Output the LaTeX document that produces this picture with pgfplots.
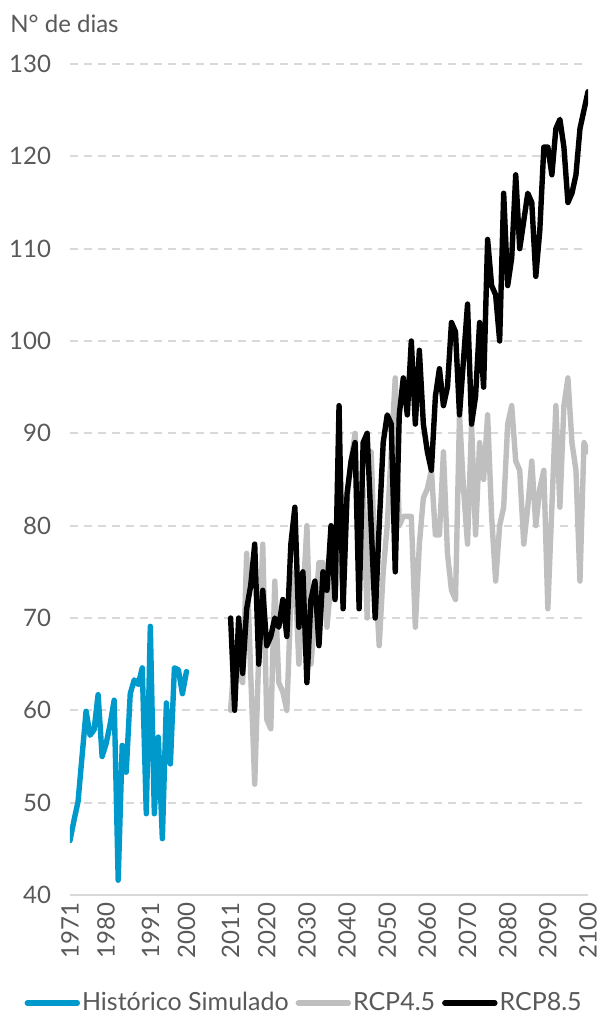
\documentclass[border=0pt]{standalone}
\usepackage{fontspec}
\setmainfont{Lato}
\usepackage{pgfplots}
\pgfplotsset{compat=1.18}
\definecolor{histblue}{RGB}{0,153,204}
\definecolor{rcpgrey}{RGB}{191,191,191}
\definecolor{gridgrey}{RGB}{217,217,217}
\definecolor{textgrey}{RGB}{89,89,89}
\begin{document}
\begin{tikzpicture}
\path[use as bounding box] (-35bp,-66bp) rectangle (265bp,447.5bp);
\begin{axis}[
  at={(0,0)}, anchor=south west,
  scale only axis, width=259bp, height=415.5bp,
  xmin=1971, xmax=2100, ymin=40, ymax=130,
  axis x line*=bottom, axis y line*=left,
  y axis line style={draw=none},
  x axis line style={gridgrey, line width=1bp},
  major tick length=0pt,
  ytick={40,50,...,130},
  xtick={1971,1980,1991,2000,2011,2020,2030,2040,2050,2060,2070,2080,2090,2100},
  xticklabels={1971,1980,1991,2000,2011,2020,2030,2040,2050,2060,2070,2080,2090,2100},
  ymajorgrids,
  grid style={gridgrey, dash pattern=on 4bp off 3bp, line width=1bp},
  /pgf/number format/assume math mode=true,
  tick label style={font=\fontsize{12bp}{14bp}\selectfont, text=textgrey},
  yticklabel style={anchor=east, xshift=-6bp},
  xticklabel style={rotate=90, anchor=east, inner sep=1.5bp, xshift=-2bp},
  legend style={at={(0.452,-0.13)}, anchor=center, draw=none, fill=none,
    legend columns=3, font=\fontsize{12.5bp}{14bp}\selectfont, text=textgrey,
    nodes={inner sep=1bp},
    /tikz/every even column/.append style={column sep=2.5bp}},
  legend image code/.code={\draw[#1, line cap=round] (0bp,0bp) -- (25bp,0bp);},
  every axis plot/.append style={line width=2.7bp, line join=round, line cap=round, mark=none},
]
\addplot[histblue] coordinates {
(1971,45.9)(1972,48.1)(1973,50.1)(1974,55)(1975,59.9)(1976,57.3)(1977,57.9)(1978,61.7)(1979,55)(1980,56.4)
(1981,58.5)(1982,61.1)(1983,41.6)(1984,56.2)(1985,53.3)(1986,61.8)(1987,63.3)(1988,62.8)(1989,64.6)(1990,48.8)
(1991,69.1)(1992,48.8)(1993,57.1)(1994,46.1)(1995,60.8)(1996,54.2)(1997,64.6)(1998,64.4)(1999,61.8)(2000,64.2)
};
\addlegendentry{Histórico Simulado}
\addplot[rcpgrey] coordinates {
(2011,60)(2012,66)(2013,64)(2014,63)(2015,77)(2016,64)(2017,52)(2018,66)(2019,78)(2020,59)
(2021,58)(2022,74)(2023,63)(2024,62)(2025,60)(2026,72)(2027,75)(2028,65)(2029,72)(2030,80)
(2031,65)(2032,70)(2033,76)(2034,76)(2035,69)(2036,74)(2037,72)(2038,78)(2039,73)(2040,83)
(2041,87)(2042,90)(2043,78)(2044,84)(2045,70)(2046,88)(2047,75)(2048,67)(2049,75)(2050,80)
(2051,88)(2052,96)(2053,80)(2054,81)(2055,81)(2056,81)(2057,69)(2058,78)(2059,83)(2060,84)
(2061,86)(2062,79)(2063,79)(2064,88)(2065,77)(2066,73)(2067,72)(2068,92)(2069,84)(2070,78)
(2071,91)(2072,79)(2073,89)(2074,85)(2075,92)(2076,81)(2077,74)(2078,80)(2079,82)(2080,91)
(2081,93)(2082,87)(2083,86)(2084,78)(2085,82)(2086,87)(2087,80)(2088,84)(2089,86)(2090,71)
(2091,82)(2092,93)(2093,82)(2094,93)(2095,96)(2096,89)(2097,86)(2098,74)(2099,89)(2100,88)
};
\addlegendentry{RCP4.5}
\addplot[black] coordinates {
(2011,70)(2012,60)(2013,70)(2014,64)(2015,71)(2016,73.5)(2017,78)(2018,65)(2019,73)(2020,67)
(2021,68)(2022,70)(2023,69)(2024,72)(2025,68)(2026,78)(2027,82)(2028,69)(2029,75)(2030,63)
(2031,72)(2032,74)(2033,67)(2034,75)(2035,73)(2036,80)(2037,72)(2038,93)(2039,71)(2040,83.5)
(2041,87)(2042,89)(2043,71)(2044,89)(2045,90)(2046,80)(2047,70)(2048,80)(2049,89)(2050,92)
(2051,91)(2052,75)(2053,92)(2054,96)(2055,92)(2056,100)(2057,91)(2058,99)(2059,91)(2060,88)
(2061,86)(2062,94)(2063,97)(2064,93)(2065,95)(2066,102)(2067,101)(2068,92)(2069,98)(2070,104)
(2071,91)(2072,94)(2073,102)(2074,95)(2075,111)(2076,106)(2077,105)(2078,100)(2079,116)(2080,106)
(2081,109)(2082,118)(2083,110)(2084,113)(2085,116)(2086,115)(2087,107)(2088,112)(2089,121)(2090,121)
(2091,118)(2092,123)(2093,124)(2094,121)(2095,115)(2096,116)(2097,118)(2098,123)(2099,125)(2100,127)
};
\addlegendentry{RCP8.5}
\end{axis}
\node[anchor=base west, font=\fontsize{12bp}{14bp}\selectfont, text=textgrey, inner sep=0pt] at (-30bp,431bp) {N° de dias};
\end{tikzpicture}
\end{document}
